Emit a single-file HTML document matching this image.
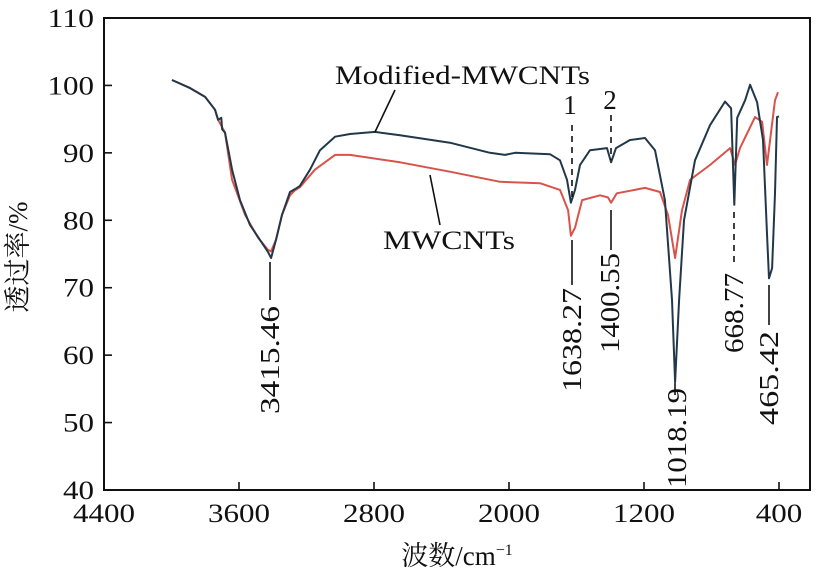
<!DOCTYPE html>
<html><head><meta charset="utf-8"><style>
body{margin:0;background:#fff;}
svg text{font-family:"Liberation Serif","Noto Serif CJK SC",serif;fill:#111;}
</style></head><body>
<svg id="chart" width="823" height="576" xmlns="http://www.w3.org/2000/svg">
<rect x="104" y="18" width="706" height="472" fill="none" stroke="#111" stroke-width="2"/>
<g id="axes"></g>
<g id="series"></g>
<g id="annot" stroke="#111" stroke-width="1.6" fill="none"></g>
<text transform="translate(27,257) rotate(-90)" text-anchor="middle" font-size="27">透过率/%</text>
<text x="457" y="565" text-anchor="middle" font-size="27">波数/cm<tspan font-size="16" dy="-10">−1</tspan></text>
<text x="335" y="84" font-size="26" textLength="255" lengthAdjust="spacingAndGlyphs">Modified-MWCNTs</text>
<text x="383" y="249" font-size="26" textLength="132" lengthAdjust="spacingAndGlyphs">MWCNTs</text>
</svg>
<script>
const xTicks=[4400,3600,2800,2000,1200,400];
const yTicks=[40,50,60,70,80,90,100,110];
const modW=[3997,3890,3801,3742,3724,3705,3700,3683,3641,3594,3535,3476,3428,3410,3381,3345,3298,3270,3239,3179,3120,3031,2942,2794,2646,2350,2113,2024,1964,1757,1698,1656,1633,1609,1579,1520,1419,1395,1366,1283,1194,1135,1076,1034,1016,992,963,898,809,720,684,665,648,601,571,530,495,471,459,441,424,412,400];
const modV=[100.8,99.6,98.3,96.4,94.9,95.2,93.5,93,87.5,83,79.3,77.1,75.3,74.4,77.1,80.8,84.2,84.6,85.1,87.5,90.4,92.4,92.8,93.1,92.6,91.5,90,89.7,90,89.8,88.9,86,82.6,84.5,88.2,90.4,90.7,88.6,90.7,91.9,92.2,90.4,83,68.2,56,68.2,80,88.9,94.1,97.6,96.6,82.3,95.2,97.8,100.1,97.5,91.9,78,71.4,72.9,84,95.3,95.4];
const rawW=[3997,3890,3801,3742,3724,3683,3641,3564,3487,3428,3410,3381,3345,3298,3270,3239,3150,3031,2942,2646,2350,2053,1816,1698,1650,1633,1609,1567,1461,1414,1395,1361,1194,1105,1058,1016,975,927,809,690,661,631,542,500,471,453,424,406];
const rawV=[100.8,99.6,98.3,96.4,94.9,93,86,80.8,77.4,75.6,75.4,77.1,80.8,83.7,84.4,84.9,87.5,89.7,89.7,88.6,87.2,85.7,85.5,84.5,81.5,77.7,78.9,83,83.7,83.4,82.6,84,84.8,84.2,80.8,74.4,81.5,86,88.2,90.7,88.2,90.7,95.3,94.6,88.2,91.9,97.8,99];
const X=w=>104+(4400-w)*0.16875;
const Y=v=>490-(v-40)*6.743;
const NS="http://www.w3.org/2000/svg";
const ax=document.getElementById('axes');
const chart=document.getElementById('chart');
function mk(t,a,p){const e=document.createElementNS(NS,t);for(const k in a)e.setAttribute(k,a[k]);p.appendChild(e);return e;}
xTicks.forEach(t=>{
 const l=mk('line',{x1:X(t),x2:X(t),y1:490,y2:482,stroke:'#111','stroke-width':1.6},ax);
 
 
 const s=String(t);
 const tx=mk('text',{x:X(t),y:522,'text-anchor':'middle','font-size':26,textLength:s.length*15.5,lengthAdjust:'spacingAndGlyphs'},ax);tx.textContent=s;
 
 
});
yTicks.forEach(t=>{
 const l=mk('line',{x1:104,x2:112,y1:Y(t),y2:Y(t),stroke:'#111','stroke-width':1.6},ax);
 
 
 const s=String(t);
 const tx=mk('text',{x:94,y:Y(t)+9,'text-anchor':'end','font-size':26,textLength:s.length*15.5,lengthAdjust:'spacingAndGlyphs'},ax);tx.textContent=s;
 
 
});
const sg=document.getElementById('series');
function line(W,V,c,name){
 const p=mk('polyline',{points:W.map((w,i)=>X(w).toFixed(1)+','+Y(V[i]).toFixed(1)).join(' '),fill:'none',stroke:c,'stroke-width':2,'stroke-linejoin':'round'},sg);
 
 
}
line(rawW,rawV,'#d9534a','mwcnts-line');
line(modW,modV,'#22384a','modified-mwcnts-line');
const an=document.getElementById('annot');
const segs=[[395,90,375,132,''],[430,175,440,225,''],[270,262,270,300,''],[572,125,572,200,'6,5'],[572,240,572,285,''],[611,115,611,160,'6,5'],[611,210,611,250,''],[675,383,675,395,''],[734,212,734,262,'6,5'],[769,285,769,325,'']];
segs.forEach(s=>{const l=mk('line',{x1:s[0],y1:s[1],x2:s[2],y2:s[3]},an);if(s[4])l.setAttribute('stroke-dasharray',s[4]);
 
 });
const labs=[[270,360,'3415.46',108],[572,340,'1638.27',104],[610,303,'1400.55',100],[677,438,'1018.19',100],[734,313,'668.77',80],[769,378,'465.42',94]];
labs.forEach(s=>{const t=mk('text',{transform:`translate(${s[0]+9},${s[1]}) rotate(-90)`,'text-anchor':'middle','font-size':27,textLength:s[3],lengthAdjust:'spacingAndGlyphs'},chart);t.textContent=s[2];
 
 });
[[570,114,'1'],[610,109,'2']].forEach(s=>{const t=mk('text',{x:s[0],y:s[1],'text-anchor':'middle','font-size':27},chart);t.textContent=s[2];
 
 });
</script>
</body></html>
